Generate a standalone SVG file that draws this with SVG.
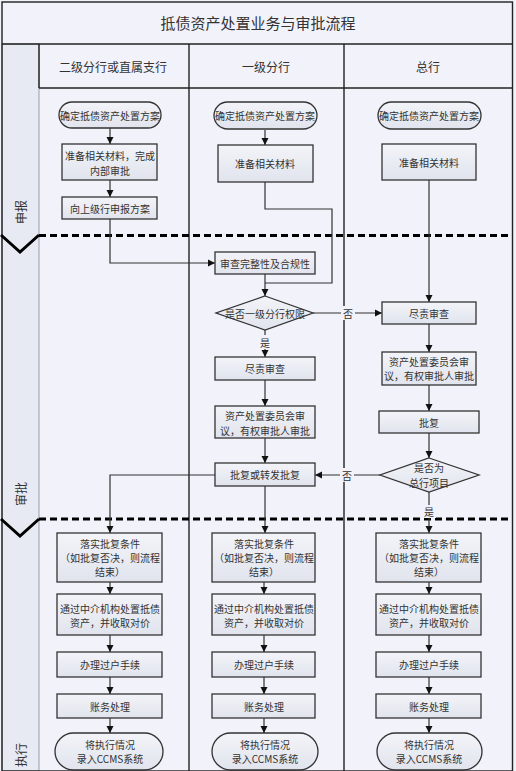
<svg xmlns="http://www.w3.org/2000/svg" width="516" height="771" viewBox="0 0 516 771">
<defs>
<linearGradient id="bf" x1="0" y1="0" x2="0" y2="1">
<stop offset="0" stop-color="#f3f4f9"/>
<stop offset="1" stop-color="#e1e4ed"/>
</linearGradient>
<marker id="ah" markerWidth="8" markerHeight="8" refX="7" refY="4" orient="auto" markerUnits="userSpaceOnUse">
<path d="M0,0.5 L7,4 L0,7.5 Z" fill="#111"/>
</marker>
<style>
.bx{fill:url(#bf);stroke:#333;stroke-width:1.3}
.t{font-family:"Noto Sans CJK SC","Liberation Serif",serif;font-size:10px;fill:#333;text-anchor:middle;dominant-baseline:central}
.h{font-family:"Noto Sans CJK SC","Liberation Serif",serif;font-size:12px;fill:#333;text-anchor:middle;dominant-baseline:central}
.ln{fill:none;stroke:#333;stroke-width:1.2}
.ar{fill:none;stroke:#333;stroke-width:1.2;marker-end:url(#ah)}
.fr{fill:none;stroke:#222;stroke-width:1.4}
.ds{fill:none;stroke:#000;stroke-width:3;stroke-dasharray:7 4}
.lb{fill:#f2f2fa}
</style>
</defs>
<rect x="0" y="0" width="516" height="771" fill="#f2f2fa"/>
<!-- lane strip -->
<rect x="2" y="44" width="37" height="727" fill="#e7eaf2" stroke="#9a9ca6" stroke-width="1"/>
<!-- frame -->
<g id="frame">
<rect x="2" y="2" width="510.5" height="769" class="fr"/>
<line x1="2" y1="44" x2="512.5" y2="44" class="fr"/>
<line x1="39" y1="88" x2="512.5" y2="88" class="fr"/>
<line x1="189" y1="44" x2="189" y2="771" class="fr"/>
<line x1="344" y1="44" x2="344" y2="771" class="fr"/>
<line x1="39" y1="44" x2="39" y2="88" class="fr"/>
</g>
<text x="258" y="22" class="h" style="font-size:15px">抵债资产处置业务与审批流程</text>
<text x="113" y="66" class="h">二级分行或直属支行</text>
<text x="266" y="66" class="h">一级分行</text>
<text x="428" y="66" class="h">总行</text>
<!-- lane labels -->
<text class="h" transform="translate(20,212) rotate(-90)">申报</text>
<text class="h" transform="translate(20,494) rotate(-90)">审批</text>
<text class="h" transform="translate(20,755) rotate(-90)">执行</text>
<!-- lane separators -->
<g id="separators">
<line x1="39" y1="235.5" x2="512" y2="235.5" class="ds"/>
<line x1="39" y1="519" x2="512" y2="519" class="ds"/>
<path d="M1,235 L20,252 L39,235" fill="none" stroke="#000" stroke-width="3"/>
<path d="M1,519 L20,536 L39,519" fill="none" stroke="#000" stroke-width="3"/>
</g>
<!-- connectors -->
<g id="connectors">
<line x1="110" y1="128" x2="110" y2="144" class="ar"/>
<line x1="110" y1="180" x2="110" y2="197" class="ar"/>
<path d="M110,219 V263 H215" class="ar"/>
<line x1="265" y1="130" x2="265" y2="145" class="ar"/>
<path d="M265,182 V209 H332 V283 H265" class="ln"/>
<line x1="265" y1="274" x2="265" y2="296" class="ar"/>
<line x1="313" y1="313" x2="382" y2="313" class="ar"/>
<line x1="265" y1="330" x2="265" y2="357" class="ar"/>
<line x1="265" y1="380" x2="265" y2="406" class="ar"/>
<line x1="265" y1="438" x2="265" y2="463" class="ar"/>
<line x1="265" y1="486" x2="265" y2="533" class="ar"/>
<path d="M215,475 H110 V533" class="ar"/>
<line x1="429" y1="180" x2="429" y2="302" class="ar"/>
<line x1="429" y1="324" x2="429" y2="352" class="ar"/>
<line x1="429" y1="385" x2="429" y2="411" class="ar"/>
<line x1="429" y1="433" x2="429" y2="458" class="ar"/>
<line x1="429" y1="492" x2="429" y2="533" class="ar"/>
<line x1="380" y1="475" x2="315" y2="475" class="ar"/>
<line x1="110" y1="582" x2="110" y2="594" class="ar"/>
<line x1="110" y1="635" x2="110" y2="652" class="ar"/>
<line x1="110" y1="677" x2="110" y2="694" class="ar"/>
<line x1="110" y1="718" x2="110" y2="733" class="ar"/>
<line x1="264" y1="582" x2="264" y2="594" class="ar"/>
<line x1="264" y1="635" x2="264" y2="652" class="ar"/>
<line x1="264" y1="677" x2="264" y2="694" class="ar"/>
<line x1="264" y1="718" x2="264" y2="733" class="ar"/>
<line x1="429" y1="582" x2="429" y2="594" class="ar"/>
<line x1="429" y1="635" x2="429" y2="652" class="ar"/>
<line x1="429" y1="677" x2="429" y2="694" class="ar"/>
<line x1="429" y1="718" x2="429" y2="733" class="ar"/>
<rect x="341" y="306" width="14" height="14" class="lb"/>
<text x="348" y="313" class="t">否</text>
<rect x="258" y="335" width="14" height="14" class="lb"/>
<text x="265" y="342" class="t">是</text>
<rect x="340" y="468" width="14" height="14" class="lb"/>
<text x="347" y="475" class="t">否</text>
<rect x="422" y="505" width="14" height="13" class="lb"/>
<text x="429" y="511" class="t">是</text>
</g>
<!-- column 1 -->
<g id="c1-start"><rect x="59" y="102" width="102" height="26" rx="13" class="bx"/><text x="110" y="115" class="t">确定抵债资产处置方案</text></g>
<g id="c1-prep"><rect x="62" y="144" width="95" height="36" class="bx"/><text x="110" y="155" class="t">准备相关材料，完成</text><text x="110" y="170" class="t">内部审批</text></g>
<g id="c1-submit"><rect x="62" y="197" width="95" height="22" class="bx"/><text x="110" y="208" class="t">向上级行申报方案</text></g>
<!-- column 2 -->
<g id="c2-start"><rect x="214" y="102" width="103" height="27" rx="13.5" class="bx"/><text x="265" y="115.5" class="t">确定抵债资产处置方案</text></g>
<g id="c2-prep"><rect x="218" y="145" width="95" height="37" class="bx"/><text x="265" y="163.5" class="t">准备相关材料</text></g>
<g id="c2-check"><rect x="215" y="252" width="100" height="22" class="bx"/><text x="265" y="263" class="t">审查完整性及合规性</text></g>
<g id="c2-dec"><polygon points="265,296 313,313 265,330 216,313" class="bx"/><text x="265" y="313" class="t">是否一级分行权限</text></g>
<g id="c2-due"><rect x="215" y="357" width="100" height="23" class="bx"/><text x="265" y="368.5" class="t">尽责审查</text></g>
<g id="c2-comm"><rect x="215" y="406" width="100" height="32" class="bx"/><text x="265" y="415" class="t">资产处置委员会审</text><text x="265" y="430" class="t">议，有权审批人审批</text></g>
<g id="c2-reply"><rect x="215" y="463" width="100" height="23" class="bx"/><text x="265" y="474.5" class="t">批复或转发批复</text></g>
<!-- column 3 -->
<g id="c3-start"><rect x="378" y="102" width="103" height="27" rx="13.5" class="bx"/><text x="429" y="115.5" class="t">确定抵债资产处置方案</text></g>
<g id="c3-prep"><rect x="382" y="144" width="94" height="36" class="bx"/><text x="429" y="162" class="t">准备相关材料</text></g>
<g id="c3-due"><rect x="382" y="302" width="94" height="22" class="bx"/><text x="429" y="313" class="t">尽责审查</text></g>
<g id="c3-comm"><rect x="382" y="352" width="94" height="33" class="bx"/><text x="429" y="361.5" class="t">资产处置委员会审</text><text x="429" y="375.5" class="t">议，有权审批人审批</text></g>
<g id="c3-reply"><rect x="379" y="411" width="100" height="22" class="bx"/><text x="429" y="422" class="t">批复</text></g>
<g id="c3-dec"><polygon points="429,458 479,475 429,492 380,475" class="bx"/><text x="429" y="467" class="t">是否为</text><text x="429" y="482" class="t">总行项目</text></g>
<!-- execution lane -->
<g id="c1-impl"><rect x="57" y="533" width="105" height="49" class="bx"/><text x="110" y="543" class="t">落实批复条件</text><text x="110" y="557" class="t">（如批复否决，则流程</text><text x="110" y="571" class="t">结束）</text></g>
<g id="c1-agent"><rect x="57" y="594" width="105" height="41" class="bx"/><text x="110" y="608" class="t">通过中介机构处置抵债</text><text x="110" y="622" class="t">资产，并收取对价</text></g>
<g id="c1-trans"><rect x="57" y="652" width="105" height="25" class="bx"/><text x="110" y="664.5" class="t">办理过户手续</text></g>
<g id="c1-acct"><rect x="57" y="694" width="105" height="24" class="bx"/><text x="110" y="706" class="t">账务处理</text></g>
<g id="c1-end"><rect x="55" y="733" width="108" height="37" rx="18.5" class="bx"/><text x="110" y="744" class="t">将执行情况</text><text x="110" y="758" class="t">录入CCMS系统</text></g>
<g id="c2-impl"><rect x="212" y="533" width="103" height="49" class="bx"/><text x="264" y="543" class="t">落实批复条件</text><text x="264" y="557" class="t">（如批复否决，则流程</text><text x="264" y="571" class="t">结束）</text></g>
<g id="c2-agent"><rect x="212" y="594" width="103" height="41" class="bx"/><text x="264" y="608" class="t">通过中介机构处置抵债</text><text x="264" y="622" class="t">资产，并收取对价</text></g>
<g id="c2-trans"><rect x="212" y="652" width="103" height="25" class="bx"/><text x="264" y="664.5" class="t">办理过户手续</text></g>
<g id="c2-acct"><rect x="212" y="694" width="103" height="24" class="bx"/><text x="264" y="706" class="t">账务处理</text></g>
<g id="c2-end"><rect x="212" y="733" width="106" height="37" rx="18.5" class="bx"/><text x="265" y="744" class="t">将执行情况</text><text x="265" y="758" class="t">录入CCMS系统</text></g>
<g id="c3-impl"><rect x="376" y="533" width="105" height="49" class="bx"/><text x="429" y="543" class="t">落实批复条件</text><text x="429" y="557" class="t">（如批复否决，则流程</text><text x="429" y="571" class="t">结束）</text></g>
<g id="c3-agent"><rect x="376" y="594" width="105" height="41" class="bx"/><text x="429" y="608" class="t">通过中介机构处置抵债</text><text x="429" y="622" class="t">资产，并收取对价</text></g>
<g id="c3-trans"><rect x="376" y="652" width="105" height="25" class="bx"/><text x="429" y="664.5" class="t">办理过户手续</text></g>
<g id="c3-acct"><rect x="376" y="694" width="105" height="24" class="bx"/><text x="429" y="706" class="t">账务处理</text></g>
<g id="c3-end"><rect x="377" y="733" width="105" height="37" rx="18.5" class="bx"/><text x="429" y="744" class="t">将执行情况</text><text x="429" y="758" class="t">录入CCMS系统</text></g>
</svg>
